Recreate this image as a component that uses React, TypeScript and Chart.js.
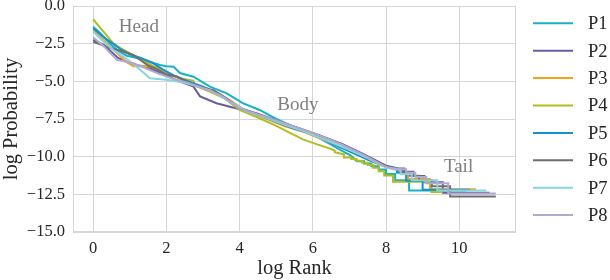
import React, { useEffect, useRef } from "react";
import { Chart, registerables } from "chart.js";

Chart.register(...registerables);

type Pt = [number, number];

const seriesLabels = ["P1", "P2", "P3", "P4", "P5", "P6", "P7", "P8"];
const seriesColors = ["#17b2c6", "#6b5ba3", "#f7a21b", "#b3bd1c", "#1592cf", "#6f6f6f", "#84d7e0", "#b2a9cf"];

const P1: Pt[] = [
  [0, -1.37], [0.2, -1.8], [0.46, -2.5], [0.7, -3.0], [0.92, -3.3], [1.2, -3.45], [1.46, -3.65],
  [1.83, -3.92], [2.0, -4.0], [2.2, -4.03], [2.37, -4.45], [2.74, -4.69], [3.19, -5.35], [3.65, -5.8],
  [4.1, -6.46], [4.55, -6.9], [5.0, -7.5], [5.46, -8.0], [6.1, -8.67], [6.5, -9.2], [6.9, -9.75],
  [7.05, -9.95], [7.2, -10.3], [7.4, -10.3], [7.4, -10.46], [7.6, -10.46], [7.6, -10.64], [7.8, -10.64],
  [7.8, -10.86], [8.0, -10.86], [8.0, -11.15], [8.25, -11.15], [8.25, -11.56], [8.63, -11.56],
  [8.63, -12.25], [10.2, -12.25],
];
const P2: Pt[] = [
  [0, -2.25], [0.3, -2.6], [0.68, -3.45], [1.09, -3.9], [1.4, -4.0], [1.7, -4.3], [2.0, -4.6],
  [2.3, -4.95], [2.74, -5.35], [2.92, -6.0], [3.37, -6.45], [4.0, -6.85], [4.5, -7.25], [5.0, -7.65],
  [5.6, -8.1], [6.2, -8.6], [6.8, -9.15], [7.4, -9.85], [8.0, -10.6], [8.35, -10.78], [8.5, -10.78],
  [8.5, -11.0], [8.75, -11.0], [8.75, -11.29], [9.05, -11.29], [9.05, -11.7], [9.55, -11.7],
  [9.55, -12.39], [10.83, -12.39],
];
const P3: Pt[] = [
  [0, -1.6], [0.3, -2.3], [0.6, -3.0], [0.9, -3.7], [1.1, -4.0], [1.4, -4.0], [1.7, -4.05], [2.0, -4.4],
  [2.3, -4.75], [2.7, -5.2], [3.2, -5.6], [3.7, -6.2], [4.2, -7.0], [4.7, -7.45], [5.2, -7.95],
  [5.8, -8.4], [6.4, -9.0], [7.0, -9.6], [7.5, -10.2], [7.9, -10.6], [8.15, -10.78], [8.35, -10.78],
  [8.35, -11.07], [8.6, -11.07], [8.6, -11.48], [9.2, -11.48], [9.2, -12.17], [10.46, -12.17],
];
const P4: Pt[] = [
  [0, -0.88], [0.55, -2.48], [0.83, -2.92], [1.2, -3.4], [1.5, -3.8], [1.8, -4.2], [2.1, -4.55],
  [2.46, -4.85], [2.74, -4.95], [2.78, -5.3], [3.2, -5.7], [3.6, -6.15], [4.0, -6.9], [4.5, -7.4],
  [5.0, -7.95], [5.73, -8.85], [6.2, -9.25], [6.45, -9.45], [6.6, -9.6], [6.6, -9.7], [6.85, -9.85],
  [6.85, -10.05], [7.05, -10.05], [7.05, -10.15], [7.2, -10.15], [7.2, -10.27], [7.35, -10.27],
  [7.35, -10.41], [7.5, -10.41], [7.5, -10.56], [7.65, -10.56], [7.65, -10.74], [7.8, -10.74],
  [7.8, -10.96], [7.95, -10.96], [7.95, -11.25], [8.19, -11.25], [8.19, -11.66], [9.24, -11.66],
  [9.24, -12.35], [9.55, -12.35],
];
const P5: Pt[] = [
  [0, -1.48], [0.3, -2.1], [0.6, -2.6], [0.74, -2.85], [1.0, -3.2], [1.3, -3.45], [1.6, -3.75],
  [1.9, -4.2], [2.2, -4.6], [2.5, -4.9], [3.0, -5.35], [3.5, -5.9], [4.0, -6.75], [4.5, -7.2],
  [5.0, -7.7], [5.5, -8.15], [6.0, -8.5], [6.5, -9.1], [7.0, -9.65], [7.5, -10.2], [7.9, -10.55],
  [8.1, -10.76], [8.3, -10.76], [8.3, -11.05], [8.55, -11.05], [8.55, -11.6], [9.0, -11.6],
  [9.0, -12.2], [10.3, -12.2],
];
const P6: Pt[] = [
  [0, -2.37], [0.55, -2.85], [0.8, -3.0], [1.09, -3.25], [1.3, -3.6], [1.5, -3.95], [1.75, -4.2],
  [2.0, -4.55], [2.3, -4.7], [2.6, -5.1], [3.0, -5.4], [3.3, -5.6], [3.6, -6.1], [4.0, -6.8],
  [4.5, -7.15], [5.0, -7.6], [5.65, -8.15], [6.2, -8.6], [6.8, -9.2], [7.4, -9.9], [8.0, -10.65],
  [8.3, -10.86], [8.45, -10.86], [8.45, -11.04], [8.65, -11.04], [8.65, -11.26], [8.9, -11.26],
  [8.9, -11.55], [9.25, -11.55], [9.25, -11.96], [9.75, -11.96], [9.75, -12.65], [11.0, -12.65],
];
const P7: Pt[] = [
  [0, -1.7], [0.3, -2.4], [0.55, -2.92], [0.85, -3.4], [1.19, -4.03], [1.55, -4.8], [2.0, -4.9],
  [2.4, -5.05], [2.8, -5.3], [3.2, -5.6], [3.7, -6.3], [4.2, -7.0], [4.7, -7.4], [5.2, -7.85],
  [5.8, -8.35], [6.4, -8.95], [7.0, -9.55], [7.5, -10.1], [7.9, -10.6], [8.2, -10.86], [8.4, -10.86],
  [8.4, -11.15], [8.7, -11.15], [8.7, -11.56], [9.4, -11.56], [9.4, -12.25], [10.74, -12.25],
];
const P8: Pt[] = [
  [0, -2.08], [0.3, -2.7], [0.65, -3.58], [1.1, -3.8], [1.4, -4.1], [1.8, -4.5], [2.2, -4.85],
  [2.6, -5.1], [3.0, -5.45], [3.5, -5.95], [4.0, -6.8], [4.5, -7.2], [5.0, -7.6], [5.6, -8.1],
  [6.2, -8.6], [6.8, -9.2], [7.4, -9.9], [8.0, -10.7], [8.4, -10.84], [8.55, -10.84], [8.55, -11.06],
  [8.8, -11.06], [8.8, -11.35], [9.1, -11.35], [9.1, -11.76], [9.7, -11.76], [9.7, -12.45], [11.0, -12.45],
];

const seriesData: Pt[][] = [P1, P2, P3, P4, P5, P6, P7, P8];

const xTickValues = [0, 2, 4, 6, 8, 10];
const yTickValues = [0, -2.5, -5, -7.5, -10, -12.5, -15];
const xRange = [-0.55, 11.55];
const yRange = [-15, 0];

const regionLabels = ["Head", "Body", "Tail"];
const regionX = [1.25, 5.59, 9.98];
const regionY = [-1.39, -6.57, -10.68];

const FONT = "'Liberation Serif', 'Times New Roman', serif";
const TEXT = "#262626";
const GRID = "#d6d6d6";

const fmtMinus = (v: number, digits: number) => {
  const s = Math.abs(v).toFixed(digits);
  return v < 0 ? "\u2212" + s : s;
};

const framePlugin = {
  id: "frame",
  beforeDatasetsDraw(chart: any) {
    const { ctx, chartArea } = chart;
    ctx.save();
    ctx.strokeStyle = GRID;
    ctx.lineWidth = 1;
    ctx.strokeRect(
      Math.round(chartArea.left) + 0.5,
      Math.round(chartArea.top) + 0.5,
      Math.round(chartArea.right - chartArea.left) - 1,
      Math.round(chartArea.bottom - chartArea.top) - 1
    );
    ctx.restore();
  },
};

const textPlugin = {
  id: "regionText",
  afterDatasetsDraw(chart: any) {
    const { ctx, scales } = chart;
    ctx.save();
    ctx.font = `19px ${FONT}`;
    ctx.fillStyle = "#808080";
    ctx.textAlign = "center";
    ctx.textBaseline = "middle";
    regionLabels.forEach((t, i) => {
      ctx.fillText(t, scales.x.getPixelForValue(regionX[i]), scales.y.getPixelForValue(regionY[i]));
    });
    ctx.restore();
  },
};

const legendPlugin = {
  id: "sideLegend",
  afterDraw(chart: any) {
    const { ctx, chartArea } = chart;
    const x0 = chartArea.right + 17;
    const lineLen = 40;
    const rowH = 27.4;
    const y0 = 23.3;
    ctx.save();
    ctx.font = `18.5px ${FONT}`;
    ctx.textBaseline = "middle";
    ctx.textAlign = "left";
    chart.data.datasets.forEach((ds: any, i: number) => {
      const y = y0 + i * rowH;
      ctx.strokeStyle = ds.borderColor;
      ctx.lineWidth = ds.borderWidth;
      ctx.beginPath();
      ctx.moveTo(x0, y);
      ctx.lineTo(x0 + lineLen, y);
      ctx.stroke();
      ctx.fillStyle = TEXT;
      ctx.fillText(ds.label, x0 + lineLen + 15, y + 1);
    });
    ctx.restore();
  },
};

export default function App() {
  const ref = useRef<HTMLCanvasElement | null>(null);

  useEffect(() => {
    if (!ref.current) return;
    const datasets = seriesData.map((pts, i) => ({
      label: seriesLabels[i],
      data: pts.map(([x, y]) => ({ x, y })),
      borderColor: seriesColors[i],
      backgroundColor: seriesColors[i],
      borderWidth: 2,
      pointRadius: 0,
      tension: 0,
      fill: false,
      order: seriesData.length - 1 - i,
    }));

    const chart = new Chart(ref.current, {
      type: "line",
      data: { datasets },
      options: {
        animation: false,
        responsive: false,
        devicePixelRatio: 1,
        layout: { padding: { top: 6, right: 94, left: 0, bottom: 0 } },
        plugins: { legend: { display: false }, tooltip: { enabled: false } },
        scales: {
          x: {
            type: "linear",
            min: xRange[0],
            max: xRange[1],
            afterBuildTicks: (s: any) => {
              s.ticks = xTickValues.map((v) => ({ value: v }));
            },
            afterFit: (s: any) => {
              s.height = 48;
              s.paddingLeft = 0;
              s.paddingRight = 0;
            },
            grid: { color: GRID, lineWidth: 1, drawTicks: false },
            border: { display: false },
            ticks: {
              padding: 7,
              color: TEXT,
              font: { family: FONT, size: 16.5 },
              callback: (v: any) => String(v),
              maxRotation: 0,
            },
            title: {
              display: true,
              text: "log Rank",
              color: TEXT,
              font: { family: FONT, size: 20.5, lineHeight: 1.1 },
              padding: { top: 0, bottom: 0 },
            },
          },
          y: {
            type: "linear",
            min: yRange[0],
            max: yRange[1],
            afterBuildTicks: (s: any) => {
              s.ticks = yTickValues.map((v) => ({ value: v }));
            },
            afterFit: (s: any) => {
              s.width = 73;
              s.paddingTop = 0;
              s.paddingBottom = 0;
            },
            grid: { color: GRID, lineWidth: 1, drawTicks: false },
            border: { display: false },
            ticks: {
              padding: 8,
              color: TEXT,
              font: { family: FONT, size: 16.5 },
              callback: (v: any) => fmtMinus(Number(v), 1),
            },
            title: {
              display: true,
              text: "log Probability",
              color: TEXT,
              font: { family: FONT, size: 20.5, lineHeight: 1.1 },
              padding: { top: 0, bottom: 0 },
            },
          },
        },
      },
      plugins: [framePlugin, textPlugin, legendPlugin],
    });
    return () => chart.destroy();
  }, []);

  return (
    <div style={{ position: "fixed", left: 0, top: 0, width: 610, height: 280, background: "#ffffff" }}>
      <canvas ref={ref} width={610} height={280} style={{ display: "block", width: 610, height: 280 }} />
    </div>
  );
}
